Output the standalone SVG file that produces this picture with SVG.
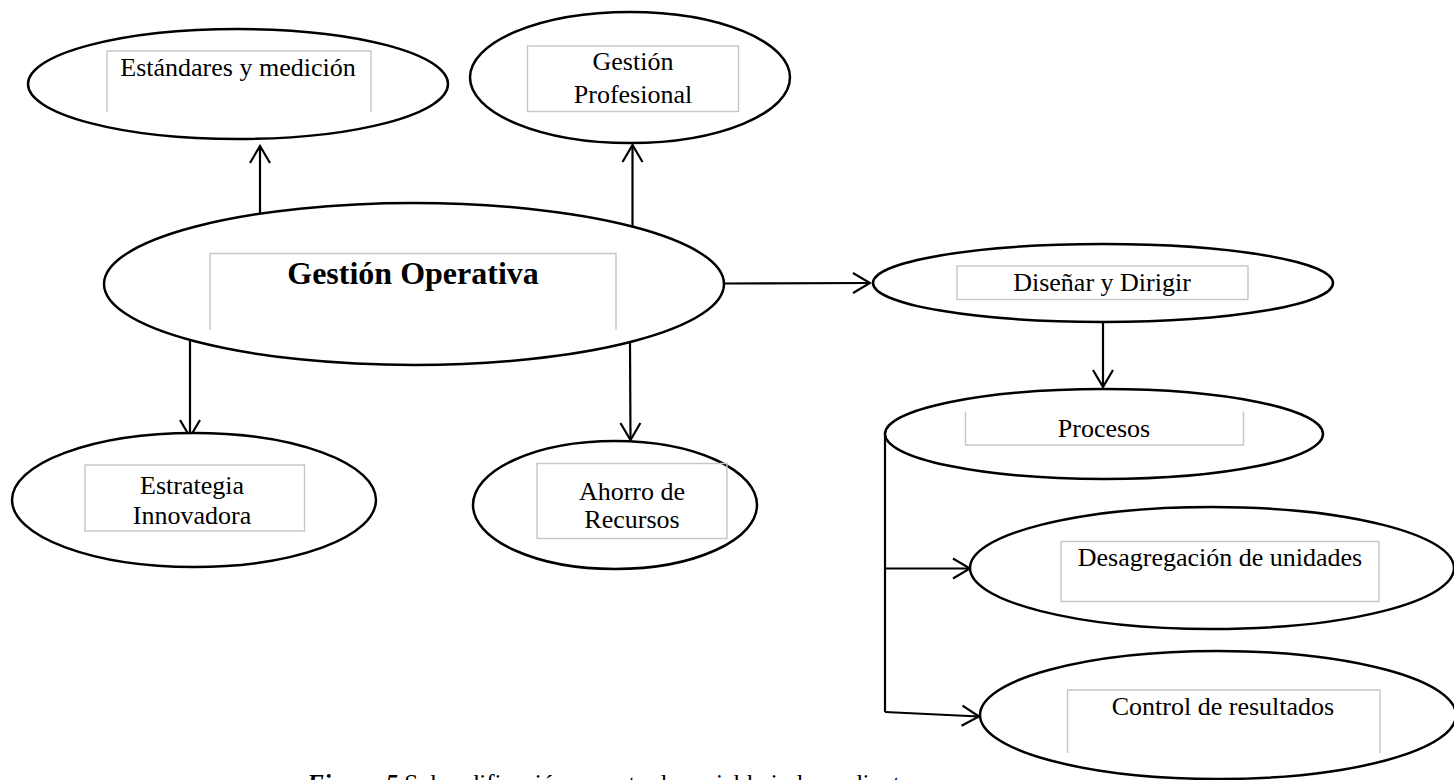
<svg xmlns="http://www.w3.org/2000/svg" width="1454" height="780" viewBox="0 0 1454 780">
  <style>
    .shape { fill: #ffffff; stroke: #000000; stroke-width: 2.5; }
    .box { fill: none; stroke: #c6c6c6; stroke-width: 1.4; }
    .lbl { font-family: "Liberation Serif", "Times New Roman", serif; font-size: 26px; fill: #000000; text-anchor: middle; }
    .title { font-size: 32px; font-weight: bold; }
    .conn { fill: none; stroke: #000000; stroke-width: 2.2; }
    .cap { font-family: "Liberation Serif", "Times New Roman", serif; font-size: 25px; fill: #000000; }
  </style>
  <defs>
    <marker id="open-arrow" viewBox="-19 -12 21 24" markerWidth="21" markerHeight="24" refX="0" refY="0" orient="auto" markerUnits="userSpaceOnUse">
      <path d="M -17 -10 L 0 0 L -17 10" fill="none" stroke="#000000" stroke-width="2.2"/>
    </marker>
  </defs>
  <rect x="0" y="0" width="1454" height="780" fill="#ffffff"/>

  <!-- connectors -->
  <g id="connectors">
    <line class="conn" x1="260" y1="213" x2="260" y2="146" marker-end="url(#open-arrow)"/>
    <line class="conn" x1="632.5" y1="226" x2="632.5" y2="145" marker-end="url(#open-arrow)"/>
    <line class="conn" x1="724" y1="283.5" x2="870" y2="283" marker-end="url(#open-arrow)"/>
    <line class="conn" x1="190" y1="341" x2="190" y2="437" marker-end="url(#open-arrow)"/>
    <line class="conn" x1="630" y1="342" x2="630.5" y2="440" marker-end="url(#open-arrow)"/>
    <line class="conn" x1="1103" y1="322" x2="1103" y2="387" marker-end="url(#open-arrow)"/>
    <polyline class="conn" points="885,434 885,712"/>
    <line class="conn" x1="885" y1="568.5" x2="970" y2="568.5" marker-end="url(#open-arrow)"/>
    <line class="conn" x1="885" y1="712" x2="979" y2="716.5" marker-end="url(#open-arrow)"/>
  </g>

  <g id="n-estandares">
    <ellipse class="shape" cx="238" cy="84" rx="210" ry="55"/>
    <path class="box" d="M107 112 V51 H371 V112"/>
    <text class="lbl" x="238" y="76">Estándares y medición</text>
  </g>

  <g id="n-profesional">
    <ellipse class="shape" cx="630" cy="77.5" rx="160" ry="65.5"/>
    <rect class="box" x="527.5" y="46" width="211" height="65.5"/>
    <text class="lbl" x="633" y="70">Gestión</text>
    <text class="lbl" x="633" y="102.5">Profesional</text>
  </g>

  <g id="n-operativa">
    <ellipse class="shape" cx="414" cy="284" rx="310" ry="81"/>
    <path class="box" d="M210 330 V253.5 H616 V330"/>
    <text class="lbl title" x="413" y="284">Gestión Operativa</text>
  </g>

  <g id="n-disenar">
    <ellipse class="shape" cx="1103" cy="283" rx="230" ry="39"/>
    <rect class="box" x="957" y="266" width="291" height="33.5"/>
    <text class="lbl" x="1102" y="291">Diseñar y Dirigir</text>
  </g>

  <g id="n-procesos">
    <ellipse class="shape" cx="1104" cy="434" rx="219" ry="45"/>
    <path class="box" d="M965.5 411.5 V445 H1243.5 V411.5"/>
    <text class="lbl" x="1104" y="437">Procesos</text>
  </g>

  <g id="n-desagregacion">
    <ellipse class="shape" cx="1212" cy="568" rx="242" ry="61"/>
    <rect class="box" x="1061" y="541.5" width="318" height="60"/>
    <text class="lbl" x="1220" y="566">Desagregación de unidades</text>
  </g>

  <g id="n-control">
    <ellipse class="shape" cx="1218" cy="715" rx="238" ry="64"/>
    <path class="box" d="M1067.5 753 V690 H1380 V753"/>
    <text class="lbl" x="1223" y="715">Control de resultados</text>
  </g>

  <g id="n-estrategia">
    <ellipse class="shape" cx="194" cy="500" rx="182" ry="67"/>
    <rect class="box" x="85" y="465" width="219.5" height="66"/>
    <text class="lbl" x="192" y="494">Estrategia</text>
    <text class="lbl" x="192" y="524">Innovadora</text>
  </g>

  <g id="n-ahorro">
    <ellipse class="shape" cx="615" cy="505" rx="142" ry="64"/>
    <rect class="box" x="537" y="463.5" width="190" height="75"/>
    <text class="lbl" x="632" y="500">Ahorro de</text>
    <text class="lbl" x="632" y="528">Recursos</text>
  </g>

  <!-- figure caption, running past the bottom edge of the page -->
  <text class="cap" x="307" y="792"><tspan font-weight="bold" font-style="italic">Figura 5</tspan> Subcodificación aspecto de variable independiente</text>
</svg>
